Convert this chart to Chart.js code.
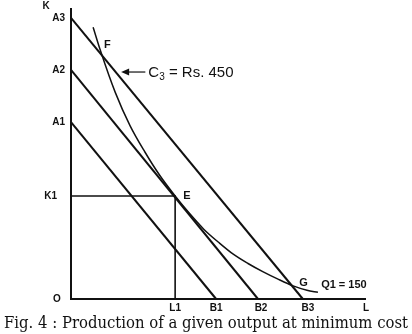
<!DOCTYPE html>
<html>
<head>
<meta charset="utf-8">
<script src="https://cdn.jsdelivr.net/npm/chart.js"></script>
<style>
  html, body { margin: 0; padding: 0; background: #fff; }
  #wrap { width: 412px; height: 334px; }
</style>
</head>
<body>
<div id="wrap"><canvas id="isoChart" width="412" height="334"></canvas></div>
<script>
// capital on K axis, labour on L axis (units, axis = 0..100)
const kIntercepts = [60.8, 78.7, 96.6];   // A1, A2, A3
const lIntercepts = [49.2, 63.4, 78.6];   // B1, B2, B3
const kLabels = ['A1', 'A2', 'A3'];
const lLabels = ['B1', 'B2', 'B3'];

// isoquant Q1 = 150
const isoL = [7.5, 10, 15, 20, 25, 30, 35.3, 40, 45, 50, 55, 60, 65, 70, 75.3, 80, 83.7];
const isoK = [93.4, 85.3, 71.0, 59.6, 50.6, 42.6, 35.4, 29.6, 24.0, 19.5, 15.4, 12.2, 9.4, 6.9, 4.5, 3.0, 2.3];

// equilibrium E, and F, G where C3 cuts the isoquant
const eL = 35.3, eK = 35.4;
const fPoint = [9.8, 85.6];
const gPoint = [75.3, 4.5];
const arrowTip = [17.0, 78.0];
const arrowTail = [25.2, 78.0];

const ink = '#111';

function lineSet(points, width) {
    return {
        data: points.map(p => ({ x: p[0], y: p[1] })),
        showLine: true,
        borderColor: ink,
        borderWidth: width,
        pointRadius: 0,
        fill: false,
        clip: false
    };
}

const datasets = [];
// axes
datasets.push(lineSet([[0, 100], [0, 0], [100, 0]], 2));
// iso-cost lines
for (let i = 0; i < kIntercepts.length; i++) {
    datasets.push(lineSet([[0, kIntercepts[i]], [lIntercepts[i], 0]], 2));
}
// K1 - E - L1
datasets.push(lineSet([[0, eK], [eL, eK], [eL, 0]], 1.6));
// isoquant
const iso = lineSet(isoL.map((l, i) => [l, isoK[i]]), 1.5);
iso.cubicInterpolationMode = 'monotone';
datasets.push(iso);

const labelsPlugin = {
    id: 'labels',
    afterDatasetsDraw(chart) {
        const ctx = chart.ctx;
        const xs = chart.scales.x, ys = chart.scales.y;
        const X = v => xs.getPixelForValue(v);
        const Y = v => ys.getPixelForValue(v);
        ctx.save();
        ctx.fillStyle = ink;
        ctx.textBaseline = 'middle';
        ctx.font = 'bold 10px "Liberation Sans", Arial, sans-serif';

        // K axis labels
        ctx.textAlign = 'right';
        kLabels.forEach((t, i) => ctx.fillText(t, X(0) - 6, Y(kIntercepts[i])));
        ctx.fillText('K1', X(0) - 14, Y(eK));
        ctx.textAlign = 'center';
        ctx.fillText('K', X(0) - 25, Y(100) - 2);
        ctx.fillText('O', X(0) - 14, Y(0));

        // L axis labels
        const ly = Y(0) + 9;
        ctx.fillText('L1', X(eL), ly);
        const nudge = [0, 3, 5];
        lLabels.forEach((t, i) => ctx.fillText(t, X(lIntercepts[i]) + nudge[i], ly));
        ctx.fillText('L', X(100), ly);

        // points
        ctx.font = 'bold 11px "Liberation Sans", Arial, sans-serif';
        ctx.textAlign = 'left';
        ctx.fillText('F', X(fPoint[0]) + 4, Y(fPoint[1]) - 5);
        ctx.fillText('E', X(eL) + 8, Y(eK));
        ctx.fillText('G', X(gPoint[0]) + 6, Y(gPoint[1]) - 3);
        ctx.fillText('Q1 = 150', X(gPoint[0]) + 28, Y(gPoint[1]) - 1);

        // arrow to C3 line
        const tx = X(arrowTip[0]), ty = Y(arrowTip[1]);
        ctx.strokeStyle = ink;
        ctx.lineWidth = 1.2;
        ctx.beginPath();
        ctx.moveTo(X(arrowTail[0]), ty);
        ctx.lineTo(tx + 5, ty);
        ctx.stroke();
        ctx.beginPath();
        ctx.moveTo(tx, ty);
        ctx.lineTo(tx + 8, ty - 3.5);
        ctx.lineTo(tx + 8, ty + 3.5);
        ctx.closePath();
        ctx.fill();

        // C3 = Rs. 450
        let x = X(arrowTail[0]) + 3;
        ctx.font = '15px "Liberation Sans", Arial, sans-serif';
        ctx.fillText('C', x, ty + 1);
        x += ctx.measureText('C').width;
        ctx.font = '10px "Liberation Sans", Arial, sans-serif';
        ctx.fillText('3', x, ty + 5);
        x += ctx.measureText('3').width;
        ctx.font = '15px "Liberation Sans", Arial, sans-serif';
        ctx.fillText(' = Rs. 450', x, ty + 1);

        // caption
        const cap = 'Fig. 4 : Production of a given output at minimum cost';
        ctx.font = '16px "DejaVu Serif", "Liberation Serif", serif';
        ctx.textBaseline = 'alphabetic';
        const w = ctx.measureText(cap).width;
        ctx.translate(4, 328);
        ctx.scale(404 / w, 1);
        ctx.fillText(cap, 0, 0);
        ctx.restore();
    }
};

new Chart(document.getElementById('isoChart').getContext('2d'), {
    type: 'scatter',
    data: { datasets: datasets },
    options: {
        responsive: false,
        animation: false,
        layout: { padding: { left: 71, right: 46, top: 8, bottom: 35 } },
        plugins: {
            legend: { display: false },
            tooltip: { enabled: false }
        },
        scales: {
            x: { type: 'linear', min: 0, max: 100, display: false },
            y: { type: 'linear', min: 0, max: 100, display: false }
        }
    },
    plugins: [labelsPlugin]
});
</script>
</body>
</html>
